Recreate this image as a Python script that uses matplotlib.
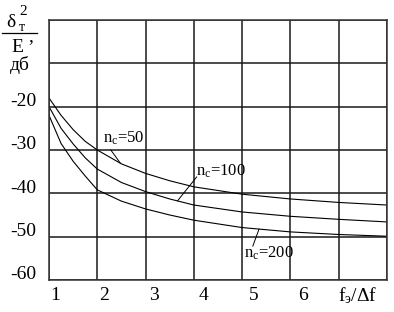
import numpy as np
import matplotlib
matplotlib.use("Agg")
import matplotlib.pyplot as plt
from matplotlib.lines import Line2D

plt.rcParams['font.family'] = ['Liberation Serif', 'DejaVu Serif']
plt.rcParams['mathtext.fontset'] = 'custom'
plt.rcParams['mathtext.rm'] = 'Liberation Serif'
plt.rcParams['mathtext.it'] = 'Liberation Serif'

# values (dB vs f_э/Δf)
x = [1, 1.25, 1.5, 1.75, 2, 2.5, 3, 3.5, 4, 5, 6, 7, 8]
n50 = [-18, -22, -25.3, -28, -30, -33.2, -35.4, -37.1, -38.5, -40.2, -41.3, -42.1, -42.7]
n100 = [-20, -25, -28.6, -31.8, -34.4, -37.5, -39.6, -41.3, -42.7, -44.3, -45.3, -46.0, -46.6]
n200 = [-22, -28.5, -32.6, -36, -39.2, -41.8, -43.6, -45, -46.2, -47.9, -48.9, -49.5, -49.9]

x_ticks = [1, 2, 3, 4, 5, 6]
y_ticks = [-20, -30, -40, -50, -60]

W, H = 394, 312


def px(xp, yp):
    return xp / W, 1 - yp / H


fig = plt.figure(figsize=(W / 100, H / 100), dpi=100)
ax = fig.add_axes([49 / W, 1 - 280 / H, (387 - 49) / W, 260 / H])

for ys in (n50, n100, n200):
    ax.plot(x, ys, color='black', lw=0.8)

ax.set_xlim(1, 8)
ax.set_ylim(-60, 0)
ax.set_xticks(range(1, 9))
ax.set_yticks(range(-60, 1, 10))
ax.grid(True, color='#1a1a1a', lw=1.1)
ax.tick_params(length=0, labelbottom=False, labelleft=False)
for s in ax.spines.values():
    s.set_color('#333333')
    s.set_linewidth(1.1)

# tick labels
for k in x_ticks:
    ax.text(1.12 + (k - 1) * 1.028, -63.5, str(k), ha='center', va='center',
            fontsize=14, clip_on=False)
ax.text(7.4, -63.5, r'f$_\mathrm{э}$/Δf', ha='center', va='center',
        fontsize=14, clip_on=False)
for v in y_ticks:
    ax.text(0.745, v + 1.2, str(v), ha='right', va='center', fontsize=14,
            clip_on=False)

# curve labels with leaders
labels = [(n50, 'n$_\\mathrm{c}$=50', (2.11, -28.4), (2.28, -30.0), 2.48),
          (n100, 'n$_\\mathrm{c}$=100', (4.04, -35.8), (4.06, -36.2), 3.66),
          (n200, 'n$_\\mathrm{c}$=200', (5.03, -54.9), (5.22, -52.2), 5.35)]
for ys, txt, tpos, lstart, xa in labels:
    ax.text(tpos[0], tpos[1], txt, ha='left', va='baseline', fontsize=12)
    ax.annotate('', xy=(xa, np.interp(xa, x, ys)), xytext=lstart,
                arrowprops=dict(arrowstyle='-', lw=0.7, color='black',
                                shrinkA=0, shrinkB=0))

# y-axis label: delta_t^2 / E, дб
fig.text(*px(6, 27), 'δ', fontsize=14, ha='left', va='baseline')
fig.text(*px(19, 15), '2', fontsize=11, ha='left', va='baseline')
fig.text(*px(19, 31), 'т', fontsize=10, ha='left', va='baseline')
fig.add_artist(Line2D([2 / W, 37 / W], [1 - 33 / H, 1 - 33 / H],
                      color='black', lw=0.9, transform=fig.transFigure))
fig.text(*px(11, 52), 'E', fontsize=14, ha='left', va='baseline')
fig.text(*px(28, 41), ',', fontsize=14, ha='left', va='baseline')
fig.text(*px(10, 70), 'дб', fontsize=14, ha='left', va='baseline')

fig.savefig('out.png', dpi=100)
